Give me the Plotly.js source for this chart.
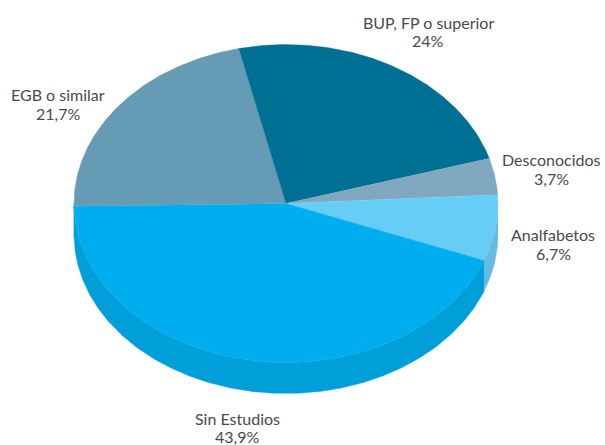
<!DOCTYPE html>
<html>
<head>
<meta charset="utf-8">
<script src="https://cdn.plot.ly/plotly-3.0.1.min.js"></script>
<style>html,body{margin:0;padding:0;background:#fff}#chart{width:605px;height:445px}</style>
</head>
<body>
<div id="chart"></div>
<script>
var categories = ["EGB o similar", "BUP, FP o superior", "Desconocidos", "Analfabetos", "Sin Estudios"];
var values = [21.7, 24, 3.7, 6.7, 43.9];
var valueLabels = ["21,7%", "24%", "3,7%", "6,7%", "43,9%"];
var topColors = ["#669bb5", "#006f94", "#7fa8bf", "#66cdf7", "#00aeef"];
var sideColors = ["#009fda", "#006485", "#7297ac", "#66bce0", "#009fda"];
var labelX = [58, 428, 551, 553, 237];
var nameY = [94.5, 22.5, 159.5, 234.5, 418];
var percentY = [113.5, 40.5, 178.5, 253.5, 436];

var cx = 286, cy = 203.5, rx = 212, ry = 159, depth = 31, startDeg = 269;

function pt(deg, dy) {
  var r = deg * Math.PI / 180;
  return [cx + rx * Math.sin(r), cy + dy - ry * Math.cos(r)];
}
function arc(a0, a1, dy) {
  var n = Math.max(2, Math.ceil(Math.abs(a1 - a0) * 2)), out = [];
  for (var i = 0; i <= n; i++) out.push(pt(a0 + (a1 - a0) * i / n, dy));
  return out;
}
function poly(points, color) {
  return {
    type: "scatter", mode: "lines", fill: "toself", fillcolor: color,
    x: points.map(function (p) { return p[0]; }),
    y: points.map(function (p) { return p[1]; }),
    line: { color: color, width: 0.4 }, hoverinfo: "skip", showlegend: false
  };
}

var total = values.reduce(function (a, b) { return a + b; }, 0);
var sides = [], tops = [], a = startDeg;
values.forEach(function (v, i) {
  var b = a + v / total * 360;
  [0, 360].forEach(function (off) {
    var lo = Math.max(a, 90 + off), hi = Math.min(b, 270 + off);
    if (hi > lo) {
      sides.push(poly(arc(lo, hi, 0).concat(arc(hi, lo, depth)), sideColors[i]));
    }
  });
  tops.push(poly([[cx, cy]].concat(arc(a, b, 0)), topColors[i]));
  a = b;
});

function label(text, x, y) {
  return {
    x: x, y: y, xref: "x", yref: "y",
    xanchor: "center", yanchor: "middle", align: "center", showarrow: false,
    text: text, font: { family: "Lato, sans-serif", size: 16, color: "#4a4a4a" }
  };
}
var annotations = [];
categories.forEach(function (c, i) {
  annotations.push(label(c, labelX[i], nameY[i]));
  annotations.push(label(valueLabels[i], labelX[i], percentY[i]));
});

var hidden = { visible: false, fixedrange: true };
Plotly.newPlot("chart", sides.concat(tops), {
  width: 605, height: 445,
  margin: { l: 0, r: 0, t: 0, b: 0 },
  paper_bgcolor: "#ffffff", plot_bgcolor: "#ffffff",
  xaxis: Object.assign({ range: [0, 605] }, hidden),
  yaxis: Object.assign({ range: [445, 0] }, hidden),
  annotations: annotations, showlegend: false
}, { displayModeBar: false, staticPlot: true });
</script>
</body>
</html>
